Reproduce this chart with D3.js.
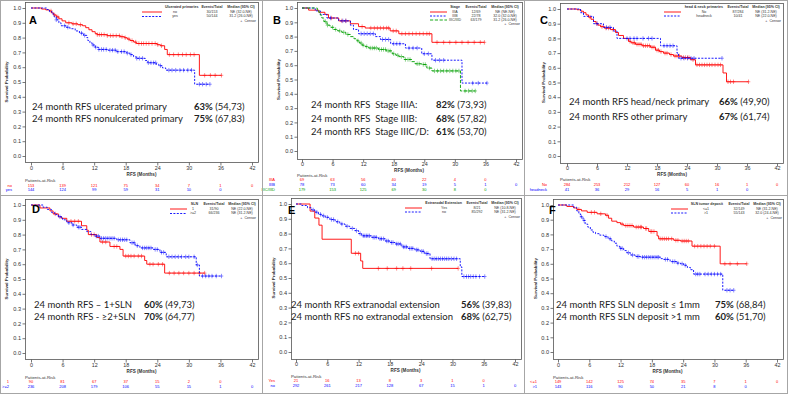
<!DOCTYPE html>
<html><head><meta charset="utf-8">
<script src="https://cdn.jsdelivr.net/npm/d3@7"></script>
<style>body{margin:0;background:#fff}svg{display:block}text{white-space:pre}</style>
</head><body><svg id="c" width="788" height="394"></svg>
<script>
// ---------- shared ticks ----------
const monthTicks = [0, 6, 12, 18, 24, 30, 36, 42];
const probTicks = [0.0, 0.1, 0.2, 0.3, 0.4, 0.5, 0.6, 0.7, 0.8, 0.9, 1.0];

// ---------- Panel A : ulcerated primaries ----------
const aGroups = ["no", "yes"];
const aEvents = ["30/153", "50/144"];
const aMedians = ["NE (32.0-NE)", "31.2 (26.0-NE)"];
const aNoTime = [2.0, 2.8, 3.5, 3.9, 4.3, 4.8, 5.3, 5.9, 6.6, 7.8, 8.9, 9.8, 10.4, 11.0, 11.6, 12.2, 12.6, 14.5, 16.9, 17.8, 18.3, 18.8, 19.5, 20.0, 24.0, 24.6, 25.4, 25.9, 32.0];
const aNoSurv = [0.993, 0.987, 0.98, 0.967, 0.953, 0.94, 0.927, 0.913, 0.90, 0.893, 0.887, 0.88, 0.867, 0.853, 0.84, 0.827, 0.82, 0.813, 0.806, 0.799, 0.79, 0.78, 0.77, 0.76, 0.752, 0.745, 0.72, 0.685, 0.545];
const aNoCens = [3.8, 4.5, 5.1, 7.2, 8.0, 8.6, 9.4, 12.6, 13.0, 13.4, 13.9, 14.5, 15.1, 15.6, 16.2, 16.8, 17.3, 17.9, 18.6, 19.2, 19.9, 20.5, 21.0, 21.4, 21.9, 22.4, 23.0, 23.6, 24.1, 24.8, 26.3, 27.1, 28.0, 28.8, 29.5, 30.3, 31.0, 33.0, 34.1, 35.0, 36.2];
const aYesTime = [3.0, 3.5, 4.0, 4.4, 4.8, 5.3, 5.7, 6.6, 7.4, 8.4, 9.2, 10.0, 10.6, 10.8, 11.2, 11.6, 12.2, 12.8, 14.6, 16.2, 18.2, 18.8, 19.5, 20.0, 21.7, 22.2, 23.8, 24.3, 25.0, 25.6, 31.1];
const aYesSurv = [0.99, 0.975, 0.96, 0.94, 0.92, 0.90, 0.88, 0.87, 0.86, 0.845, 0.83, 0.815, 0.80, 0.78, 0.765, 0.75, 0.735, 0.72, 0.715, 0.705, 0.695, 0.685, 0.67, 0.66, 0.645, 0.63, 0.62, 0.61, 0.595, 0.58, 0.485];
const aYesCens = [4.8, 6.4, 7.0, 9.6, 10.2, 11.8, 12.3, 12.9, 13.4, 13.8, 14.3, 15.0, 15.5, 16.0, 16.5, 17.2, 17.7, 18.3, 19.0, 20.1, 20.6, 21.2, 22.3, 22.8, 23.3, 23.7, 24.6, 26.2, 26.8, 27.5, 28.3, 29.0, 29.8, 30.5, 32.0, 32.6, 33.3, 34.0];
const aRiskNo = [153, 139, 121, 75, 34, 7, 1, 0];
const aRiskYes = [144, 124, 99, 59, 31, 10, 0];

// ---------- Panel B : stage ----------
const bGroups = ["IIIA", "IIIB", "IIIC/IIID"];
const bEvents = ["12/69", "22/78", "63/179"];
const bMedians = ["NE (NE-NE)", "32.0 (32.0-NE)", "31.2 (26.0-NE)"];
const bATime = [1.3, 3.3, 4.5, 5.2, 7.2, 9.5, 11.1, 12.4, 17.3, 19.0, 25.5];
const bASurv = [0.985, 0.97, 0.955, 0.93, 0.91, 0.89, 0.87, 0.86, 0.84, 0.82, 0.76];
const bACens = [5.8, 7.8, 8.6, 11.8, 13.5, 14.2, 14.8, 15.4, 16.0, 16.6, 17.0, 17.9, 18.5, 19.6, 20.3, 21.0, 21.7, 22.4, 23.1, 23.8, 24.5, 25.0, 26.5, 27.8, 29.0, 30.2, 31.4, 32.6, 33.8, 35.0, 35.8];
const bBTime = [2.6, 3.6, 4.9, 7.2, 9.5, 10.1, 11.1, 14.4, 15.4, 17.4, 20.3, 23.5, 25.5, 31.4];
const bBSurv = [0.98, 0.955, 0.93, 0.91, 0.88, 0.85, 0.82, 0.80, 0.78, 0.75, 0.72, 0.68, 0.635, 0.475];
const bBCens = [5.6, 8.0, 8.6, 11.6, 12.2, 12.8, 13.4, 14.0, 15.8, 16.4, 17.0, 18.0, 18.6, 19.2, 21.0, 21.8, 22.6, 24.0, 24.8, 26.2, 27.0, 27.8, 33.5, 34.6, 36.3];
const bCTime = [3.0, 3.3, 3.6, 3.9, 4.3, 4.9, 5.5, 6.2, 7.0, 7.8, 8.6, 9.5, 10.2, 10.8, 11.3, 11.8, 12.4, 13.1, 15.0, 16.5, 17.7, 18.4, 19.0, 20.0, 21.5, 22.2, 23.5, 24.5, 25.5, 31.1];
const bCSurv = [0.985, 0.97, 0.95, 0.93, 0.905, 0.88, 0.865, 0.85, 0.84, 0.83, 0.815, 0.80, 0.785, 0.77, 0.755, 0.74, 0.73, 0.72, 0.71, 0.70, 0.68, 0.67, 0.66, 0.64, 0.625, 0.61, 0.605, 0.58, 0.56, 0.42];
const bCCens = [4.6, 5.0, 6.0, 6.6, 7.4, 8.2, 9.0, 11.0, 11.6, 12.0, 12.7, 13.4, 13.8, 14.2, 14.6, 15.2, 15.6, 16.0, 16.4, 16.9, 17.3, 18.0, 18.8, 19.5, 20.3, 20.8, 21.2, 22.6, 23.0, 23.8, 24.2, 25.0, 26.0, 26.6, 27.2, 27.8, 28.4, 29.0, 29.6, 30.2, 30.8, 32.0, 32.7, 33.4, 34.0];
const bRiskA = [69, 63, 56, 40, 22, 4, 0];
const bRiskB = [78, 73, 60, 34, 19, 5, 1, 0];
const bRiskC = [179, 153, 125, 69, 30, 8, 0];

// ---------- Panel C : head & neck ----------
const cGroups = ["No", "headneck"];
const cEvents = ["87/284", "10/41"];
const cMedians = ["NE (31.2-NE)", "NE (22.0-NE)"];
const cNoTime = [2.0, 2.8, 3.3, 3.8, 4.3, 4.8, 5.3, 5.8, 6.2, 6.7, 7.5, 8.7, 9.7, 10.3, 11.3, 12.3, 12.8, 13.7, 15.0, 16.7, 17.7, 18.5, 19.3, 20.5, 21.3, 23.0, 24.7, 25.7, 31.2, 31.9];
const cNoSurv = [0.995, 0.985, 0.975, 0.96, 0.945, 0.93, 0.915, 0.90, 0.89, 0.88, 0.87, 0.86, 0.84, 0.82, 0.80, 0.78, 0.77, 0.76, 0.75, 0.74, 0.72, 0.71, 0.70, 0.69, 0.68, 0.67, 0.655, 0.62, 0.565, 0.505];
const cNoCens = [4.6, 6.0, 7.0, 7.8, 8.3, 9.2, 12.6, 13.2, 13.5, 14.0, 14.4, 14.8, 15.3, 15.7, 16.1, 16.5, 17.0, 17.4, 18.0, 18.3, 18.8, 19.6, 20.0, 20.8, 21.6, 22.0, 22.5, 23.3, 23.7, 24.1, 24.4, 25.2, 26.0, 26.5, 27.0, 27.5, 28.0, 28.5, 29.0, 29.6, 30.2, 30.7, 32.2, 32.7, 33.3, 36.3];
const cHnTime = [2.7, 3.3, 5.3, 7.3, 9.3, 10.0, 18.7, 22.0, 22.3];
const cHnSurv = [0.975, 0.95, 0.90, 0.875, 0.85, 0.80, 0.75, 0.70, 0.665];
const cHnCens = [6.0, 7.9, 8.6, 12.0, 12.6, 13.4, 14.0, 15.2, 16.3, 17.0, 19.4, 20.0, 20.6, 21.2, 22.8, 23.4, 24.1, 24.8, 25.4, 31.0];
const cRiskNo = [284, 253, 212, 127, 60, 16, 1, 0];
const cRiskHn = [41, 36, 29, 16, 5, 1, 0];

// ---------- Panel D : number of SLN ----------
const dGroups = ["1", ">=2"];
const dEvents = ["31/90", "66/236"];
const dMedians = ["NE (22.0-NE)", "NE (31.2-NE)"];
const dOneTime = [1.7, 3.6, 4.2, 5.2, 5.8, 6.8, 9.6, 10.6, 10.9, 12.5, 13.1, 15.0, 16.9, 17.5, 21.6, 22.0, 25.4];
const dOneSurv = [0.98, 0.96, 0.94, 0.92, 0.91, 0.89, 0.86, 0.83, 0.80, 0.78, 0.75, 0.72, 0.70, 0.655, 0.625, 0.60, 0.54];
const dOneCens = [4.6, 7.6, 8.3, 9.0, 11.5, 12.0, 13.6, 14.2, 15.8, 16.3, 18.0, 18.5, 19.0, 19.6, 20.4, 21.0, 22.6, 23.2, 24.2, 25.0, 26.3, 27.2, 28.1, 29.0, 30.0, 31.0, 32.0, 33.0];
const dTwoTime = [2.3, 3.1, 3.9, 4.5, 5.2, 6.0, 6.8, 7.8, 8.7, 9.6, 10.6, 11.4, 12.1, 13.1, 16.3, 18.8, 19.8, 20.7, 23.2, 24.5, 25.7, 31.4, 32.0];
const dTwoSurv = [0.985, 0.97, 0.95, 0.935, 0.92, 0.90, 0.88, 0.865, 0.85, 0.835, 0.82, 0.80, 0.79, 0.775, 0.765, 0.745, 0.725, 0.71, 0.70, 0.68, 0.65, 0.595, 0.52];
const dTwoCens = [5.5, 7.2, 8.0, 9.0, 9.3, 12.4, 12.8, 13.4, 13.8, 14.2, 14.6, 15.0, 15.4, 15.8, 16.6, 17.0, 17.4, 17.8, 18.2, 19.2, 19.6, 20.2, 21.2, 21.6, 22.0, 22.4, 22.8, 23.6, 24.0, 24.8, 25.2, 26.2, 26.8, 27.4, 28.0, 28.6, 29.4, 30.0, 31.0, 31.6, 32.6, 33.2, 33.8, 34.4, 35.2, 36.2];
const dRiskOne = [90, 81, 67, 37, 15, 2, 0];
const dRiskTwo = [236, 208, 179, 106, 55, 15, 1, 0];

// ---------- Panel E : extranodal extension ----------
const eGroups = ["Yes", "no"];
const eEvents = ["8/21", "85/292"];
const eMedians = ["NE (10.8-NE)", "NE (31.2-NE)"];
const eYesTime = [2.7, 3.6, 4.4, 5.0, 10.6, 12.4, 12.8];
const eYesSurv = [0.952, 0.905, 0.857, 0.762, 0.667, 0.615, 0.565];
const eYesCens = [11.4, 12.0, 15.8, 17.5, 19.3, 20.5, 22.0, 26.0, 31.1];
const eNoTime = [1.1, 2.2, 3.0, 3.6, 4.3, 5.0, 5.6, 6.5, 7.5, 8.4, 9.4, 10.3, 11.3, 12.0, 12.6, 14.5, 15.8, 17.1, 18.0, 19.0, 20.3, 21.5, 22.8, 23.8, 24.7, 25.7, 31.5, 31.8];
const eNoSurv = [0.99, 0.975, 0.96, 0.945, 0.93, 0.92, 0.91, 0.895, 0.88, 0.865, 0.85, 0.835, 0.82, 0.80, 0.785, 0.775, 0.765, 0.75, 0.74, 0.73, 0.71, 0.70, 0.69, 0.68, 0.665, 0.63, 0.575, 0.51];
const eNoCens = [3.3, 4.0, 4.7, 5.3, 6.0, 6.8, 7.2, 8.0, 8.8, 9.8, 10.8, 11.6, 12.3, 12.9, 13.2, 13.5, 13.8, 14.1, 14.8, 15.1, 15.4, 16.1, 16.4, 16.8, 17.4, 17.7, 18.3, 18.6, 19.3, 19.6, 20.0, 20.6, 20.9, 21.2, 21.8, 22.1, 22.4, 23.1, 23.4, 24.1, 24.4, 25.0, 25.3, 26.1, 26.5, 26.9, 27.3, 27.7, 28.1, 28.5, 28.9, 29.3, 29.8, 30.3, 30.8, 32.2, 32.7, 33.1, 33.5, 34.0, 34.5, 35.2, 36.2];
const eRiskYes = [21, 16, 13, 8, 3, 1, 0];
const eRiskNo = [292, 261, 217, 128, 67, 15, 1, 0];

// ---------- Panel F : SLN tumor deposit ----------
const fGroups = ["<=1", ">1"];
const fEvents = ["32/149", "55/143"];
const fMedians = ["NE (31.2-NE)", "32.0 (24.4-NE)"];
const fSmallTime = [1.7, 3.0, 3.6, 4.5, 5.6, 7.5, 9.1, 9.7, 10.3, 11.3, 12.0, 12.6, 14.5, 16.4, 17.4, 19.0, 19.3, 22.2, 23.5, 25.7, 31.1];
const fSmallSurv = [0.99, 0.98, 0.97, 0.96, 0.95, 0.94, 0.93, 0.91, 0.89, 0.88, 0.87, 0.86, 0.85, 0.84, 0.82, 0.79, 0.77, 0.76, 0.755, 0.72, 0.60];
const fSmallCens = [4.0, 6.4, 7.0, 8.2, 9.4, 12.3, 13.0, 13.4, 13.8, 14.2, 15.0, 15.4, 15.8, 16.0, 16.8, 17.0, 17.8, 18.0, 18.4, 19.6, 20.0, 20.4, 20.8, 21.2, 21.8, 22.6, 23.0, 23.8, 24.2, 24.6, 25.0, 26.2, 26.8, 27.4, 28.0, 28.6, 29.2, 30.0, 32.0, 33.0, 34.4, 36.2];
const fLargeTime = [3.0, 3.6, 4.0, 4.3, 4.8, 5.2, 5.7, 6.2, 6.7, 7.2, 8.0, 8.8, 9.6, 10.3, 10.8, 11.3, 11.8, 12.6, 13.2, 13.9, 14.8, 15.8, 19.7, 20.3, 21.5, 22.8, 23.5, 24.1, 24.8, 25.4, 26.0, 31.6];
const fLargeSurv = [0.985, 0.96, 0.94, 0.92, 0.895, 0.87, 0.85, 0.83, 0.815, 0.805, 0.795, 0.785, 0.77, 0.755, 0.74, 0.72, 0.705, 0.69, 0.675, 0.66, 0.65, 0.645, 0.635, 0.63, 0.615, 0.605, 0.60, 0.59, 0.575, 0.56, 0.53, 0.42];
const fLargeCens = [4.5, 5.0, 9.2, 10.0, 12.0, 12.3, 13.5, 14.3, 15.2, 15.5, 16.2, 16.6, 17.0, 17.4, 17.8, 18.2, 18.6, 19.0, 19.3, 20.6, 21.0, 22.0, 22.4, 23.0, 23.8, 24.4, 26.4, 26.8, 27.2, 28.2, 28.8, 29.4, 30.0, 30.6, 31.2, 32.4, 33.0, 33.7];
const fRiskSmall = [149, 142, 125, 74, 35, 7, 1, 0];
const fRiskLarge = [143, 116, 90, 50, 21, 8, 0];

// ---------- styles ----------
const RED = "#ff0000", BLUE = "#0000ff", GREEN = "#00a000";
const DASH = [null, "2,1.4", "3.2,1.6"];
const COLORS = [RED, BLUE, GREEN];
const ANN_FONT = "Lato, 'Open Sans', sans-serif";
const ANN_SIZE = 9.5;
const SMALL_FONT = "Arial, 'Liberation Sans', sans-serif";

function mk(time, surv, cens) { return { time, surv, cens }; }

const panels = [
  { letter: "A", ox: 0, oy: 0, ax: 25, x0: 31, x42: 252, y1: 8, y0: 156, fb: 162, tickY: 168, titleY: 175, parY: 181, rowsY: [185.5, 190], riskLabX: 12, ylabX: 7, letterX: 29, letterY: 24,
    lg: { title: "Ulcerated primaries", hdrY: 7, rowY: [12, 16.5], censY: 21, lineX: [142, 162], grpHdrRight: 198.5, grpX: 175, evX: 212, medX: 241, censRight: 256 },
    groups: aGroups, events: aEvents, medians: aMedians,
    series: [mk(aNoTime, aNoSurv, aNoCens), mk(aYesTime, aYesSurv, aYesCens)], risk: [aRiskNo, aRiskYes],
    ann: { labX: 32, pctX: 194, ys: [110, 121.5], lines: [["24 month RFS ulcerated primary", "63%", "(54,73)"], ["24 month RFS nonulcerated primary", "75%", "(67,83)"]] } },
  { letter: "B", ox: 262, oy: 0, ax: 35, x0: 40, x42: 254, y1: 8, y0: 151, fb: 159, tickY: 164, titleY: 171, parY: 175.5, rowsY: [180, 185, 190], riskLabX: 13, ylabX: 17, letterX: 11, letterY: 24,
    lg: { title: "Stage", hdrY: 7, rowY: [12, 16, 20], censY: 24, lineX: [168, 185], grpHdrRight: 198, grpX: 193, evX: 214, medX: 243, censRight: 258 },
    groups: bGroups, events: bEvents, medians: bMedians,
    series: [mk(bATime, bASurv, bACens), mk(bBTime, bBSurv, bBCens), mk(bCTime, bCSurv, bCCens)], risk: [bRiskA, bRiskB, bRiskC],
    ann: { labX: 49, pctX: 174, ys: [108, 121.5, 135], lines: [["24 month RFS  Stage IIIA:", "82%", "(73,93)"], ["24 month RFS  Stage IIIB:", "68%", "(57,82)"], ["24 month RFS  Stage IIIC/D:", "61%", "(53,70)"]] } },
  { letter: "C", ox: 524, oy: 0, ax: 36, x0: 43, x42: 253, y1: 9, y0: 156, fb: 163, tickY: 168, titleY: 175, parY: 180, rowsY: [185, 190], riskLabX: 23, ylabX: 20, letterX: 16, letterY: 24,
    lg: { title: "head & neck primaries", hdrY: 7, rowY: [12, 16], censY: 21, lineX: [140, 157], grpHdrRight: 199, grpX: 180, evX: 214, medX: 242, censRight: 257 },
    groups: cGroups, events: cEvents, medians: cMedians,
    series: [mk(cNoTime, cNoSurv, cNoCens), mk(cHnTime, cHnSurv, cHnCens)], risk: [cRiskNo, cRiskHn],
    ann: { labX: 45, pctX: 195, ys: [105, 120], lines: [["24 month RFS head/neck primary", "66%", "(49,90)"], ["24 month RFS other primary", "67%", "(61,74)"]] } },
  { letter: "D", ox: 0, oy: 197, ax: 25, x0: 31, x42: 252, y1: 8, y0: 156, fb: 162, tickY: 168, titleY: 175, parY: 181, rowsY: [185, 190], riskLabX: 9, ylabX: 7, letterX: 32, letterY: 16,
    lg: { title: "SLN", hdrY: 7, rowY: [12, 16.5], censY: 21, lineX: [170, 187], grpHdrRight: 198, grpX: 193, evX: 214, medX: 242, censRight: 256 },
    groups: dGroups, events: dEvents, medians: dMedians,
    series: [mk(dOneTime, dOneSurv, dOneCens), mk(dTwoTime, dTwoSurv, dTwoCens)], risk: [dRiskOne, dRiskTwo],
    ann: { labX: 34, pctX: 144, ys: [111, 123], lines: [["24 month RFS \u2013 1+SLN", "60%", "(49,73)"], ["24 month RFS - \u22652+SLN", "70%", "(64,77)"]] } },
  { letter: "E", ox: 262, oy: 197, ax: 29, x0: 34, x42: 253, y1: 7, y0: 155, fb: 162, tickY: 167, titleY: 174, parY: 180, rowsY: [184, 189], riskLabX: 13, ylabX: 12, letterX: 26, letterY: 17,
    lg: { title: "Extranodal Extension", hdrY: 6, rowY: [11, 15], censY: 20, lineX: [143, 160], grpHdrRight: 200, grpX: 182, evX: 215, medX: 243, censRight: 258 },
    groups: eGroups, events: eEvents, medians: eMedians,
    series: [mk(eYesTime, eYesSurv, eYesCens), mk(eNoTime, eNoSurv, eNoCens)], risk: [eRiskYes, eRiskNo],
    ann: { labX: 29, pctX: 199, ys: [111, 122.5], lines: [["24 month RFS extranodal extension", "56%", "(39,83)"], ["24 month RFS no extranodal extension", "68%", "(62,75)"]] } },
  { letter: "F", ox: 524, oy: 197, ax: 29, x0: 34, x42: 253, y1: 8, y0: 155, fb: 162, tickY: 168, titleY: 175, parY: 181, rowsY: [185, 190], riskLabX: 13, ylabX: 12, letterX: 25, letterY: 17,
    lg: { title: "SLN tumor deposit", hdrY: 7, rowY: [12, 16], censY: 21, lineX: [147, 164], grpHdrRight: 199, grpX: 182, evX: 215, medX: 243, censRight: 258 },
    groups: fGroups, events: fEvents, medians: fMedians,
    series: [mk(fSmallTime, fSmallSurv, fSmallCens), mk(fLargeTime, fLargeSurv, fLargeCens)], risk: [fRiskSmall, fRiskLarge],
    ann: { labX: 32, pctX: 191, ys: [111, 123], lines: [["24 month RFS SLN deposit \u2264 1mm", "75%", "(68,84)"], ["24 month RFS SLN deposit >1 mm", "60%", "(51,70)"]] } }
];

const svg = d3.select("#c");
svg.append("rect").attr("width", 788).attr("height", 394).attr("fill", "#fff");

function survAt(s, t) {
  let v = 1;
  for (let i = 0; i < s.time.length; i++) { if (s.time[i] <= t) v = s.surv[i]; else break; }
  return v;
}

panels.forEach(p => {
  const g = svg.append("g").attr("transform", `translate(${p.ox},${p.oy})`);
  const x = d3.scaleLinear().domain([0, 42]).range([p.x0, p.x42]);
  const y = d3.scaleLinear().domain([0, 1]).range([p.y0, p.y1]);
  const pr = p.x42 + 6, top = p.y1 - 6;

  // frame
  g.append("rect").attr("x", p.ax + 0.5).attr("y", top + 0.5).attr("width", pr - p.ax).attr("height", p.fb - top)
    .attr("fill", "none").attr("stroke", "#555").attr("stroke-width", 0.8);

  // y axis
  const ya = g.append("g").attr("transform", `translate(${p.ax + 0.5},0)`)
    .call(d3.axisLeft(y).tickValues(probTicks).tickFormat(d3.format(".1f")).tickSize(3).tickPadding(1.5));
  ya.select(".domain").remove();
  ya.selectAll("line").attr("stroke", "#555").attr("stroke-width", 0.8);
  ya.selectAll("text").attr("font-family", SMALL_FONT).attr("font-size", 5.6).attr("fill", "#333");

  // x axis
  const xa = g.append("g").attr("transform", `translate(0,${p.fb + 0.5})`)
    .call(d3.axisBottom(x).tickValues(monthTicks).tickSize(3).tickPadding(1.5));
  xa.select(".domain").remove();
  xa.selectAll("line").attr("stroke", "#555").attr("stroke-width", 0.8);
  xa.selectAll("text").attr("font-family", SMALL_FONT).attr("font-size", 5.4).attr("fill", "#333")
    .attr("y", null).attr("dy", null).attr("transform", `translate(0,${p.tickY - p.fb})`).attr("dominant-baseline", "middle");

  // axis titles
  g.append("text").attr("x", (p.x0 + p.x42) / 2).attr("y", p.titleY).attr("text-anchor", "middle").attr("dominant-baseline", "middle")
    .attr("font-family", SMALL_FONT).attr("font-size", 4.6).attr("font-weight", "bold").attr("fill", "#333").text("RFS (Months)");
  g.append("text").attr("transform", `translate(${p.ylabX},${y(0.5)}) rotate(-90)`).attr("text-anchor", "middle").attr("dominant-baseline", "middle")
    .attr("font-family", SMALL_FONT).attr("font-size", 4.4).attr("font-weight", "bold").attr("fill", "#333").text("Survival Probability");

  // curves
  const line = d3.line().x(d => x(d[0])).y(d => y(d[1])).curve(d3.curveStepAfter);
  p.series.forEach((s, i) => {
    const end = d3.max(s.cens.concat(s.time));
    const pts = [[0, 1]].concat(s.time.map((t, k) => [t, s.surv[k]]));
    pts.push([end, s.surv[s.surv.length - 1]]);
    g.append("path").attr("d", line(pts)).attr("fill", "none").attr("stroke", COLORS[i]).attr("stroke-width", 0.9)
      .attr("stroke-dasharray", DASH[i]);
    const cg = g.append("g").attr("stroke", COLORS[i]).attr("stroke-width", 0.6).attr("opacity", 0.75);
    s.cens.forEach(c => {
      const cx = x(c), cy = y(survAt(s, c));
      cg.append("path").attr("d", `M${cx - 1.8},${cy}H${cx + 1.8}M${cx},${cy - 2.2}V${cy + 2.2}`);
    });
  });

  // legend
  const L = p.lg;
  const lt = (xx, yy, txt, anchor, bold) => g.append("text").attr("x", xx).attr("y", yy).attr("text-anchor", anchor)
    .attr("dominant-baseline", "middle").attr("font-family", SMALL_FONT).attr("font-size", 3.6)
    .attr("font-weight", bold ? "bold" : "normal").attr("fill", "#333").text(txt);
  lt(L.grpHdrRight, L.hdrY, L.title, "end", true);
  lt(L.evX, L.hdrY, "Events/Total", "middle", true);
  lt(L.medX, L.hdrY, "Median (95% CI)", "middle", true);
  p.groups.forEach((gr, i) => {
    g.append("line").attr("x1", L.lineX[0]).attr("x2", L.lineX[1]).attr("y1", L.rowY[i]).attr("y2", L.rowY[i])
      .attr("stroke", COLORS[i]).attr("stroke-width", 0.9).attr("stroke-dasharray", DASH[i]);
    lt(L.grpX, L.rowY[i], gr, "middle", false);
    lt(L.evX, L.rowY[i], p.events[i], "middle", false);
    lt(L.medX, L.rowY[i], p.medians[i], "middle", false);
  });
  lt(L.censRight, L.censY, "+  Censor", "end", false);

  // panel letter
  g.append("text").attr("x", p.letterX).attr("y", p.letterY).attr("font-family", SMALL_FONT).attr("font-size", 11)
    .attr("font-weight", "bold").attr("fill", "#000").text(p.letter);

  // annotation
  p.ann.lines.forEach((ln, i) => {
    g.append("text").attr("x", p.ann.labX).attr("y", p.ann.ys[i]).attr("font-family", ANN_FONT).attr("font-size", ANN_SIZE)
      .attr("fill", "#222").text(ln[0]);
    const t2 = g.append("text").attr("x", p.ann.pctX).attr("y", p.ann.ys[i]).attr("font-family", ANN_FONT).attr("font-size", ANN_SIZE).attr("fill", "#222");
    t2.append("tspan").attr("font-weight", "bold").text(ln[1]);
    t2.append("tspan").text(" " + ln[2]);
  });

  // patients at risk
  g.append("text").attr("x", p.ax).attr("y", p.parY).attr("dominant-baseline", "middle").attr("font-family", SMALL_FONT)
    .attr("font-size", 4.3).attr("fill", "#333").text("Patients-at-Risk");
  p.risk.forEach((row, i) => {
    g.append("text").attr("x", p.riskLabX).attr("y", p.rowsY[i]).attr("text-anchor", "end").attr("dominant-baseline", "middle")
      .attr("font-family", SMALL_FONT).attr("font-size", 4).attr("fill", COLORS[i]).text(p.groups[i]);
    row.forEach((v, k) => {
      g.append("text").attr("x", x(monthTicks[k])).attr("y", p.rowsY[i]).attr("text-anchor", "middle").attr("dominant-baseline", "middle")
        .attr("font-family", SMALL_FONT).attr("font-size", 4).attr("fill", COLORS[i]).text(v);
    });
  });
});

// panel separators
const sep = svg.append("g").attr("stroke", "#a6a6a6").attr("stroke-width", 1).attr("fill", "none");
sep.append("rect").attr("x", 0.5).attr("y", 0.5).attr("width", 787).attr("height", 393);
sep.append("line").attr("x1", 262.5).attr("x2", 262.5).attr("y1", 0).attr("y2", 394);
sep.append("line").attr("x1", 524.5).attr("x2", 524.5).attr("y1", 0).attr("y2", 394);
sep.append("line").attr("x1", 0).attr("x2", 788).attr("y1", 195.5).attr("y2", 195.5);
</script></body></html>
